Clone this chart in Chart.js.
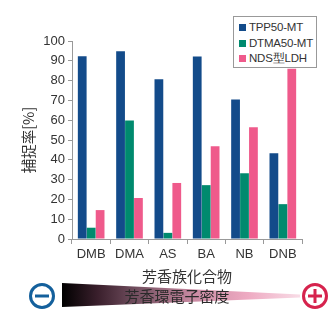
<!DOCTYPE html>
<html><head><meta charset="utf-8">
<script src="https://cdn.jsdelivr.net/npm/chart.js@4/dist/chart.umd.min.js"></script>
<style>
html,body{margin:0;padding:0;background:#fff;}
#wrap{position:relative;width:329px;height:315px;}
#legend{position:absolute;left:233px;top:16px;width:84px;height:52px;border:1px solid #999;background:#fff;box-sizing:border-box;font:11.5px "Liberation Sans",Arial,sans-serif;color:#333;padding:3px 0 0 5px;letter-spacing:-0.2px;}
#legend div{height:15.5px;line-height:15.5px;white-space:nowrap;}
#legend span{display:inline-block;width:7px;height:7px;margin-right:3px;vertical-align:0px;}
</style></head>
<body><div id="wrap"><canvas id="c" width="329" height="315"></canvas><div id="legend"></div></div>
<script>
const categories = ["DMB","DMA","AS","BA","NB","DNB"];
const seriesNames = ["TPP50-MT","DTMA50-MT","NDS型LDH"];
const tpp50 = [92.3, 94.8, 80.7, 92.2, 70.5, 43.3];
const dtma50 = [5.7, 59.8, 3.1, 27.2, 33.2, 17.6];
const ndsLdh = [14.6, 20.7, 28.3, 46.8, 56.4, 86];
const yTicks = [0,10,20,30,40,50,60,70,80,90,100];
const colors = ["#134b8a","#008a6e","#ef5a8b"];
const xTitle = "芳香族化合物";
const yTitle = "捕捉率[%]";
const gradientLabel = "芳香環電子密度";

const FONT = '"Liberation Sans", Arial, "Noto Sans CJK JP", sans-serif';

const leg = document.getElementById('legend');
seriesNames.forEach((n,i)=>{
  const d=document.createElement('div');
  const s=document.createElement('span'); s.style.background=colors[i];
  d.appendChild(s); d.appendChild(document.createTextNode(n)); leg.appendChild(d);
});

const deco = {
  id:'deco',
  afterDraw(chart){
    const ctx=chart.ctx;
    ctx.save();
    const g=ctx.createLinearGradient(62,0,300,0);
    g.addColorStop(0,'#000000');
    g.addColorStop(0.15,'#3a1f2c');
    g.addColorStop(0.3,'#6e4c5c');
    g.addColorStop(0.55,'#c98aa2');
    g.addColorStop(0.78,'#eeaac2');
    g.addColorStop(1,'#f8dce6');
    ctx.fillStyle=g;
    ctx.beginPath();
    ctx.moveTo(62,283);ctx.lineTo(300,294.5);ctx.lineTo(300,297.5);ctx.lineTo(62,307);ctx.closePath();ctx.fill();
    ctx.fillStyle='#2a2a2a';
    ctx.font='15px "Noto Sans CJK JP", sans-serif';
    ctx.textAlign='center';ctx.textBaseline='middle';
    ctx.fillText(gradientLabel,177,296);
    ctx.lineWidth=3;
    ctx.strokeStyle='#14609c';
    ctx.beginPath();ctx.arc(42,296,11.5,0,Math.PI*2);ctx.stroke();
    ctx.beginPath();ctx.moveTo(35,296);ctx.lineTo(49,296);ctx.stroke();
    ctx.strokeStyle='#d6234d';
    ctx.beginPath();ctx.arc(315,296,11.5,0,Math.PI*2);ctx.stroke();
    ctx.beginPath();ctx.moveTo(308,296);ctx.lineTo(322,296);ctx.moveTo(315,289);ctx.lineTo(315,303);ctx.stroke();
    ctx.restore();
  }
};

new Chart(document.getElementById('c'),{
  type:'bar',
  data:{labels:categories,datasets:[
    {label:seriesNames[0],data:tpp50,backgroundColor:colors[0]},
    {label:seriesNames[1],data:dtma50,backgroundColor:colors[1]},
    {label:seriesNames[2],data:ndsLdh,backgroundColor:colors[2]}
  ]},
  options:{
    responsive:false,animation:false,
    layout:{padding:{left:0,right:27,top:41,bottom:0}},
    datasets:{bar:{categoryPercentage:0.7,barPercentage:0.98}},
    plugins:{legend:{display:false},tooltip:{enabled:false}},
    scales:{
      x:{
        grid:{display:true,drawOnChartArea:false,drawTicks:true,tickLength:5,color:'#999',offset:true},
        border:{display:true,color:'#999',width:1},
        ticks:{color:'#333',font:{family:FONT,size:13},padding:3},
        title:{display:true,text:xTitle,color:'#333',font:{family:'"Noto Sans CJK JP", sans-serif',size:15},padding:{top:0,bottom:30}},
        afterFit(s){s.height=76;}
      },
      y:{
        min:0,max:100,
        afterBuildTicks(s){s.ticks=yTicks.map(v=>({value:v}));},
        grid:{display:true,drawOnChartArea:false,drawTicks:true,tickLength:4,color:'#999'},
        border:{display:true,color:'#999',width:1},
        ticks:{color:'#333',font:{family:FONT,size:13},padding:3},
        title:{display:true,text:yTitle,color:'#333',font:{family:'"Noto Sans CJK JP", sans-serif',size:14.5},padding:{top:20,bottom:0}},
        afterFit(s){s.width=72;}
      }
    }
  },
  plugins:[deco]
});
</script></body></html>
